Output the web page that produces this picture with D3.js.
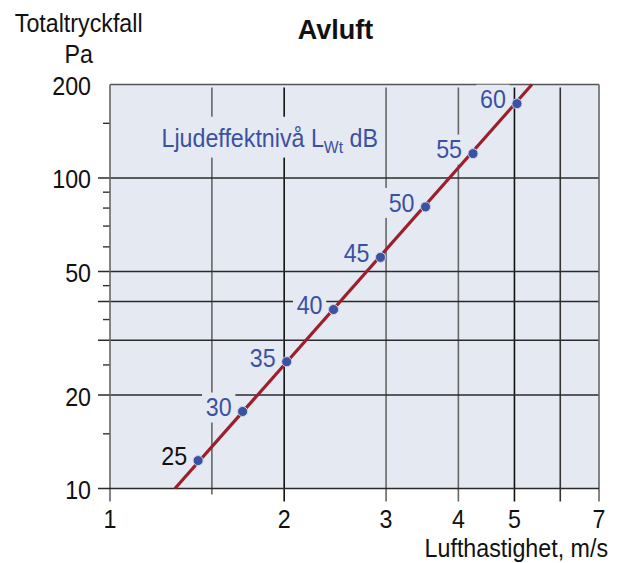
<!DOCTYPE html>
<html><head><meta charset="utf-8">
<script src="https://cdn.jsdelivr.net/npm/d3@7"></script>
<style>body{margin:0;background:#fff}svg{display:block}text{font-family:"Liberation Sans",Arial,Helvetica,sans-serif}</style>
</head><body><svg id="c" width="621" height="563"></svg>
<script>
const title = "Avluft";
const yAxisTitle = ["Totaltryckfall", "Pa"];
const xAxisTitle = "Lufthastighet, m/s";
const seriesLabel = "Ljudeffektnivå L";
const seriesSub = "Wt";
const seriesUnit = " dB";
const yTickLabels = [10, 20, 50, 100, 200];
const yGridValues = [20, 30, 40, 50, 100];
const yMinorTicks = [15, 25, 35, 45, 60, 70, 80, 90, 150];
const xTickLabels = [1, 2, 3, 4, 5, 7];
const xGridValues = [1.5, 2, 3, 4, 5, 6];
const soundLevels = [25, 30, 35, 40, 45, 50, 55, 60];
const velocities = [1.42, 1.695, 2.02, 2.434, 2.934, 3.51, 4.24, 5.05];
const pressures = [12.3, 17.7, 25.6, 37.7, 55.5, 80.7, 119.8, 173.5];
const lineVelocity = [1.295, 5.36];
const linePressure = [10, 200];

const svg = d3.select("#c");
const x = d3.scaleLog().domain([1, 7]).range([110, 599]);
const y = d3.scaleLog().domain([10, 200]).range([488.5, 84.5]);
const BG = "#e5eaf2", BLUE = "#3b51a2", RED = "#9b1f2c";
const SX = 0.93, FS = 25;

function txt(parent, tx, ty, str, o = {}) {
  const g = parent.append("g").attr("transform", `translate(${tx},${ty}) scale(${o.sx ?? SX},1)`);
  const t = g.append("text").attr("x", 0).attr("y", 0)
    .attr("font-size", o.size ?? FS).attr("fill", o.fill ?? "#111")
    .attr("font-weight", o.weight ?? "normal")
    .attr("text-anchor", o.anchor ?? "start").text(str);
  return {g, t};
}

// plot background
svg.append("rect").attr("x", x(1)).attr("y", y(200)).attr("width", x(7) - x(1)).attr("height", y(10) - y(200)).attr("fill", BG);

// vertical grid lines
const darkX = new Set([2, 5, 6]);
svg.selectAll(".vg").data(xGridValues).enter().append("line")
  .attr("x1", d => x(d)).attr("x2", d => x(d))
  .attr("y1", y(200) + 3).attr("y2", d => d === 1.5 ? y(10) + 6 : y(10) + 13)
  .attr("stroke", d => darkX.has(d) ? (d === 6 ? "#333" : "#111") : "#666").attr("stroke-width", 1.6);

// horizontal grid lines
svg.selectAll(".hg").data(yGridValues).enter().append("line")
  .attr("x1", x(1) - 12).attr("x2", x(7))
  .attr("y1", d => y(d)).attr("y2", d => y(d))
  .attr("stroke", "#2a2a2a").attr("stroke-width", 1.5);

// minor ticks on y
svg.selectAll(".mt").data(yMinorTicks).enter().append("line")
  .attr("x1", x(1) - 7).attr("x2", x(1))
  .attr("y1", d => y(d)).attr("y2", d => y(d))
  .attr("stroke", "#333").attr("stroke-width", 1.4);

// borders
svg.append("line").attr("x1", x(1)).attr("x2", x(7)).attr("y1", y(200)).attr("y2", y(200)).attr("stroke", "#555").attr("stroke-width", 1.6);
svg.append("line").attr("x1", x(1)).attr("x2", x(1)).attr("y1", y(200)).attr("y2", y(10) + 13).attr("stroke", "#666").attr("stroke-width", 1.6);
svg.append("line").attr("x1", x(7)).attr("x2", x(7)).attr("y1", y(200)).attr("y2", y(10) + 13).attr("stroke", "#666").attr("stroke-width", 1.6);
svg.append("line").attr("x1", x(1) - 12).attr("x2", x(7)).attr("y1", y(10)).attr("y2", y(10)).attr("stroke", "#2a2a2a").attr("stroke-width", 1.6);

// series caption with background
{
  const {g, t} = txt(svg, 161.5, 146.5, "", {fill: BLUE});
  t.append("tspan").text(seriesLabel);
  t.append("tspan").attr("font-size", 17).attr("dy", 6).text(seriesSub);
  t.append("tspan").attr("dy", -6).text(seriesUnit);
  const b = t.node().getBBox();
  g.insert("rect", "text").attr("x", b.x - 6).attr("y", b.y - 7).attr("width", b.width + 12).attr("height", b.height + 9).attr("fill", BG);
}

// point labels with background boxes
soundLevels.forEach((lv, i) => {
  const px = x(velocities[i]), py = y(pressures[i]);
  const {g, t} = txt(svg, px - 11, py + 4.8, String(lv), {anchor: "end", fill: i === 0 ? "#111" : BLUE});
  const b = t.node().getBBox();
  g.insert("rect", "text").attr("x", b.x - 4).attr("y", b.y - 1).attr("width", b.width + 8).attr("height", b.height + 2).attr("fill", BG);
});

// fitted line
svg.append("line")
  .attr("x1", x(lineVelocity[0])).attr("y1", y(linePressure[0]))
  .attr("x2", x(lineVelocity[1])).attr("y2", y(linePressure[1]))
  .attr("stroke", RED).attr("stroke-width", 3.2);

// points
svg.selectAll(".pt").data(velocities).enter().append("circle")
  .attr("cx", d => x(d)).attr("cy", (d, i) => y(pressures[i])).attr("r", 5)
  .attr("fill", BLUE).attr("stroke", "#cdd5ea").attr("stroke-width", 1);

// y tick labels
yTickLabels.forEach(v => txt(svg, 91, y(v) + 10.5, String(v), {anchor: "end"}));
// x tick labels
xTickLabels.forEach(v => txt(svg, x(v), 528, String(v), {anchor: "middle"}));

// titles
txt(svg, 335.5, 38.5, title, {anchor: "middle", weight: "bold", size: 27, sx: 1});
txt(svg, 78.7, 31.5, yAxisTitle[0], {anchor: "middle"});
txt(svg, 78.7, 63.3, yAxisTitle[1], {anchor: "middle"});
txt(svg, 608, 556.5, xAxisTitle, {anchor: "end"});
</script></body></html>
